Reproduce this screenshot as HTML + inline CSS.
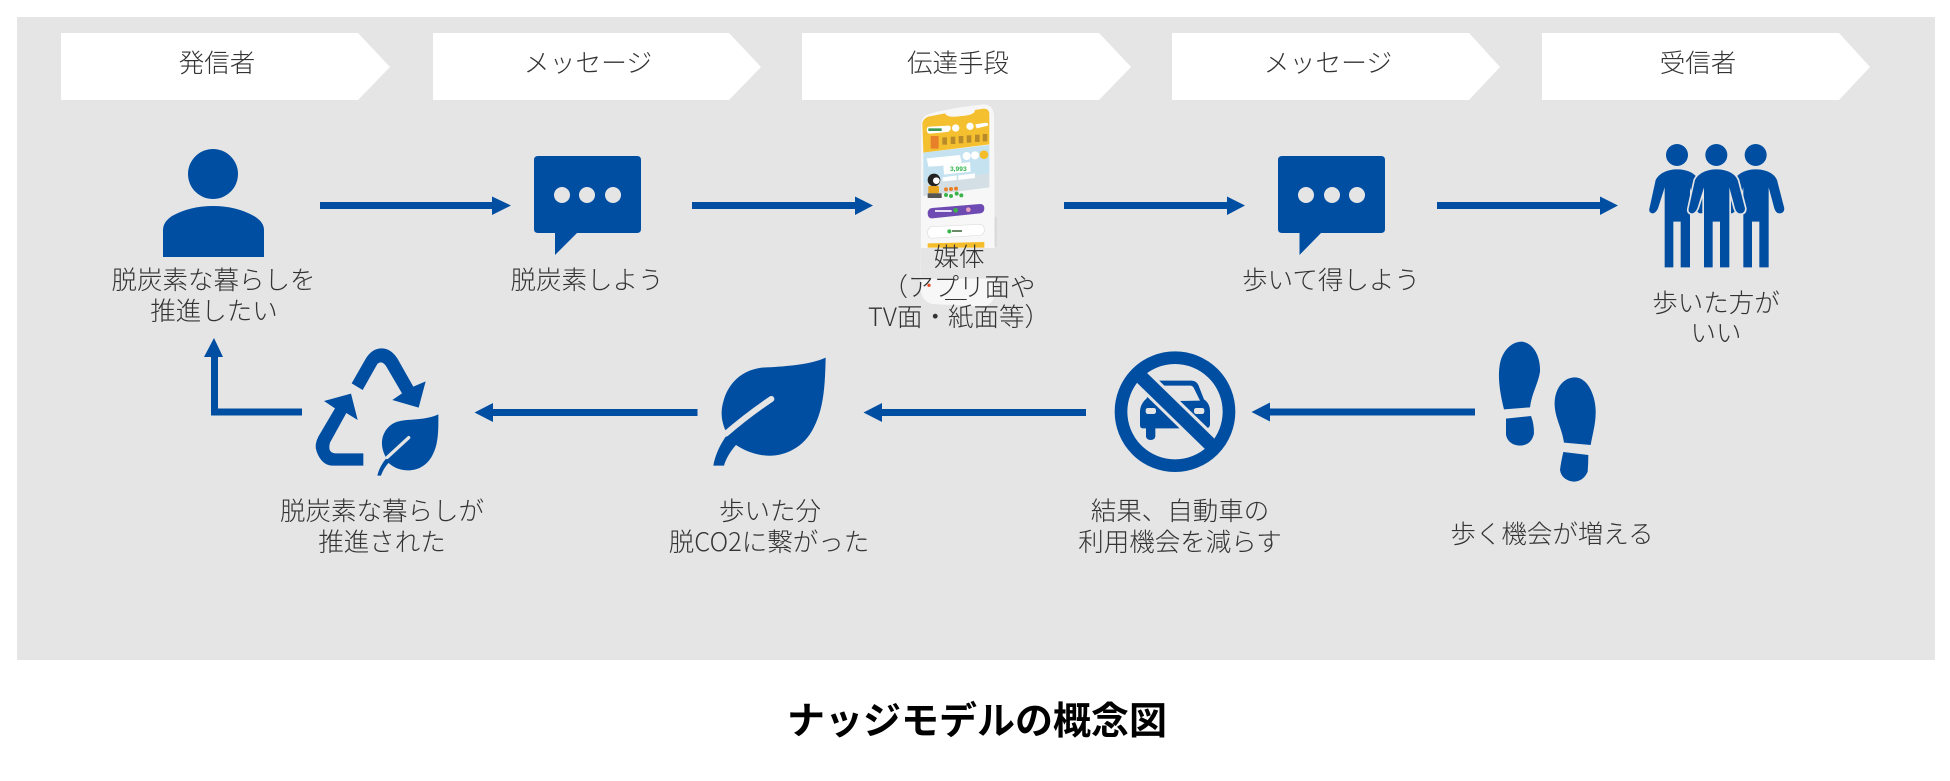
<!DOCTYPE html>
<html lang="ja"><head><meta charset="utf-8"><title>ナッジモデルの概念図</title>
<style>html,body{margin:0;padding:0;background:#fff;width:1950px;height:781px;overflow:hidden}svg{display:block}
text{font-family:"Liberation Sans","Noto Sans CJK JP",sans-serif;fill:#333;font-size:25.5px;font-weight:300;text-anchor:middle}
text.n{font-family:"Noto Sans CJK JP",sans-serif}</style></head>
<body>
<svg width="1950" height="781" viewBox="0 0 1950 781" xmlns="http://www.w3.org/2000/svg">
<rect width="1950" height="781" fill="#fff"/>
<rect x="17" y="17" width="1918" height="643" fill="#e5e5e5"/>
<!-- chevrons -->
<g fill="#fff">
<polygon points="61,33 358,33 390,67 358,100 61,100"/>
<polygon points="433,33 729,33 761,67 729,100 433,100"/>
<polygon points="802,33 1099,33 1131,67 1099,100 802,100"/>
<polygon points="1172,33 1469,33 1500,67 1469,100 1172,100"/>
<polygon points="1542,33 1839,33 1870,67 1839,100 1542,100"/>
</g>
<text x="217" y="72">発信者</text>
<text x="588" y="72" style="font-size:25.800px">メッセージ</text>
<text x="958" y="72">伝達手段</text>
<text x="1328" y="72" style="font-size:25.800px">メッセージ</text>
<text x="1698" y="72">受信者</text>

<g fill="#004ea2">
<!-- arrows -->
<polygon points="320,202 492,202 492,196.500 511,205.500 492,215 492,209 320,209"/>
<polygon points="692,202 855,202 855,196.500 873,205.500 855,215 855,209 692,209"/>
<polygon points="1064,202 1227,202 1227,196.500 1245,205.500 1227,215 1227,209 1064,209"/>
<polygon points="1437,202 1600,202 1600,196.500 1618,205.500 1600,215 1600,209 1437,209"/>
<polygon points="1475,408.500 1270,408.500 1270,402.500 1251.500,412 1270,421.500 1270,415.500 1475,415.500"/>
<polygon points="1086,409 882,409 882,403 863.500,412.500 882,422 882,416 1086,416"/>
<polygon points="697.500,409 493,409 493,403 474.500,412.500 493,422 493,416 697.500,416"/>
<polygon points="302,408.500 218,408.500 218,357 223,357 214,338 204,357 211,357 211,415.500 302,415.500"/>

<!-- person -->
<ellipse cx="213" cy="174" rx="25" ry="25"/>
<path d="M163,257 L163,230 Q163,222 172,216 Q190,206 213,206 Q236,206 254,216 Q264,222 264,230 L264,257 Z"/>
<!-- bubbles -->
<path d="M534,160 Q534,156 538,156 L637,156 Q641,156 641,160 L641,229 Q641,233 637,233 L577,233 L555,255 L555,233 L538,233 Q534,233 534,229 Z"/>
<path d="M1278,160 Q1278,156 1282,156 L1381,156 Q1385,156 1385,160 L1385,229 Q1385,233 1381,233 L1321,233 L1299.500,255 L1299.500,233 L1282,233 Q1278,233 1278,229 Z"/>
</g>
<g fill="#e5e5e5">
<circle cx="562" cy="195" r="8"/><circle cx="587" cy="195" r="8"/><circle cx="613" cy="195" r="8"/>
<circle cx="1306" cy="195" r="8"/><circle cx="1332" cy="195" r="8"/><circle cx="1357" cy="195" r="8"/>
</g>

<!-- people -->
<g transform="translate(1640,130) scale(.33333)" fill="#004ea2">
<circle cx="111" cy="75" r="33"/><circle cx="229" cy="75" r="33"/><circle cx="347" cy="75" r="33"/>
<path transform="translate(-118,0)" d="M229,118 C260,118 285,130 293,150 L315,235 Q315,250 300,250 Q290,250 285,235 L268,172 L268,412 L240,412 L240,275 L218,275 L218,412 L192,412 L192,172 L172,235 Q165,250 155,250 Q142,248 147,232 L165,150 C175,130 200,118 229,118Z"/>
<path transform="translate(118,0)" d="M229,118 C260,118 285,130 293,150 L315,235 Q315,250 300,250 Q290,250 285,235 L268,172 L268,412 L240,412 L240,275 L218,275 L218,412 L192,412 L192,172 L172,235 Q165,250 155,250 Q142,248 147,232 L165,150 C175,130 200,118 229,118Z"/>
<path stroke="#e5e5e5" stroke-width="10" paint-order="stroke" d="M229,118 C260,118 285,130 293,150 L315,235 Q315,250 300,250 Q290,250 285,235 L268,172 L268,412 L240,412 L240,275 L218,275 L218,412 L192,412 L192,172 L172,235 Q165,250 155,250 Q142,248 147,232 L165,150 C175,130 200,118 229,118Z"/>
</g>

<!-- phone -->
<g transform="translate(860,90) scale(.33333)">
<path fill="#f7f7f7" d="M200,75 Q240,58 370,43 Q398,43 402,75 L405,605 Q402,645 370,650 L215,642 Q185,632 182,600 L184,100 Q186,82 200,75Z"/>
<path fill="#f5c02f" d="M187,100 Q190,85 205,80 L255,70 Q262,85 305,78 Q345,75 345,60 L370,56 Q388,56 388,72 L388,163 L190,188 Z"/>
<path fill="#c4e2ef" d="M190,188 L388,165 L388,250 L190,280Z"/>
<path fill="#d3dfe4" d="M190,280 L388,250 L388,292 L190,318Z"/>
<path fill="#fff" d="M200,118 Q200,110 210,110 L265,107 Q272,107 272,114 Q272,124 262,126 L210,131 Q200,131 200,118Z"/>
<rect x="205" y="115" width="40" height="8" fill="#3a9a50"/>
<circle cx="287" cy="114" r="11" fill="#fff"/><circle cx="330" cy="109" r="11" fill="#fff"/>
<path fill="#fff" d="M346,103 L378,98 Q386,100 384,107 L350,115Z"/>
<rect x="212" y="138" width="24" height="38" fill="#e8802a"/>
<g fill="#b98a2a"><rect x="247" y="142" width="14" height="22"/><rect x="272" y="140" width="14" height="22"/><rect x="296" y="138" width="14" height="22"/><rect x="320" y="136" width="14" height="22"/><rect x="345" y="134" width="14" height="22"/><rect x="368" y="132" width="14" height="22"/></g>
<path fill="#fff" d="M200,205 L300,195 L305,218 L240,228 L205,230Z"/>
<path fill="#fff" d="M250,226 L330,216 L332,245 L252,254Z"/>
<text x="295" y="243" style="font-size:20px;fill:#2db44a;font-weight:700">3,993</text>
<circle cx="320" cy="198" r="12" fill="#fff"/><circle cx="345" cy="196" r="12" fill="#fff"/><circle cx="372" cy="194" r="13" fill="#f6bd2b"/>
<path fill="#fff" d="M248,262 L290,256 L290,270 L248,274Z M295,256 L345,250 L345,264 L295,270Z"/>
<circle cx="222" cy="270" r="19" fill="#222"/><circle cx="229" cy="272" r="10" fill="#fff"/>
<rect x="205" y="288" width="32" height="22" rx="4" fill="#e7a520"/>
<rect x="203" y="310" width="42" height="14" fill="#555"/>
<g fill="#e8802a"><circle cx="258" cy="298" r="6"/><circle cx="273" cy="297" r="6"/><circle cx="288" cy="296" r="6"/></g>
<g fill="#3cb34a"><circle cx="258" cy="315" r="6"/><circle cx="273" cy="318" r="6"/><circle cx="290" cy="311" r="6"/><circle cx="304" cy="316" r="6"/></g>
<path fill="#6e4bb2" d="M216,354 L360,342 Q373,342 373,355 Q373,368 360,370 L216,385 Q203,385 203,370 Q203,356 216,354Z"/>
<g fill="#e6dff5"><rect x="225" y="360" width="50" height="6"/><circle cx="287" cy="361" r="7" fill="#3cb34a"/><circle cx="325" cy="359" r="7" fill="#e8a0c0"/></g>
<path fill="#fff" stroke="#ddd" stroke-width="2" d="M215,410 L360,403 Q373,404 373,420 Q373,434 360,436 L215,445 Q203,444 203,428 Q203,412 215,410Z"/>
<circle cx="268" cy="424" r="6" fill="#3cb34a"/><rect x="276" y="420" width="30" height="6" fill="#6a8a6a"/>
<path fill="#f6bd2b" d="M203,460 L373,456 L373,473 L203,473Z"/>
<rect x="183" y="474" width="222" height="92" fill="#e5e5e5"/>
<path fill="#d8d8d8" d="M404,380 h6 v90 h-6z"/>
<circle cx="207" cy="586" r="5" fill="#e8502a"/>
<rect x="255" y="627" width="65" height="3" fill="#333"/>
</g>

<!-- lower row icons -->
<g transform="translate(300,340) scale(.33333)" fill="#004ea2">
<path d="M155,130 L196,58 Q215,25 245,25 Q272,25 292,55 L340,140 L377,124 L356,203 L277,180 L306,160 L258,78 Q245,60 232,72 L188,150 Z"/>
<path d="M72,183 L153,161 L173,240 L139,219 L90,308 Q82,338 105,340 L190,340 L190,377 L95,377 Q65,375 50,335 Q42,315 55,290 L105,205 Z"/>
<path d="M415,223 C416,290 412,320 395,350 C375,385 340,395 310,390 C290,387 275,378 265,368 L258,352 C245,330 240,300 255,275 C270,250 290,243 320,240 C355,238 390,235 415,223Z"/>
<path d="M326,293 L262,352" stroke="#e5e5e5" stroke-width="10" stroke-linecap="round" fill="none"/>
<path d="M232,407 Q238,380 258,356 L268,366 Q250,385 243,407 Z"/>
</g>
<g transform="translate(700,345) scale(.33333)" fill="#004ea2">
<path d="M377,38 C375,120 372,190 340,250 C310,310 250,335 200,332 C165,330 130,315 108,300 C92,318 78,340 72,362 L40,362 C45,330 62,295 82,268 C65,235 60,205 70,170 C85,110 130,75 185,68 C250,65 330,60 377,38Z"/>
<path d="M214,162 Q140,212 78,266" stroke="#e5e5e5" stroke-width="18" stroke-linecap="round" fill="none"/>
</g>
<g transform="translate(1100,340) scale(.33333)">
<path fill="#004ea2" d="M180,122 L275,122 Q288,122 295,135 L312,178 Q330,190 330,215 L330,255 Q328,265 318,265 L166,265 L166,290 Q164,300 152,300 Q140,300 138,290 L138,265 L128,265 Q120,265 120,255 L120,212 Q122,190 140,175 L160,130 Q165,122 180,122Z"/>
<path fill="#e5e5e5" d="M180,137 L270,137 Q278,137 282,145 L300,182 L232,183Z"/>
<rect x="137" y="204" width="31" height="18" rx="7" fill="#e5e5e5"/>
<rect x="282" y="204" width="31" height="18" rx="7" fill="#e5e5e5"/>
<line x1="110" y1="98" x2="340" y2="322" stroke="#e5e5e5" stroke-width="60"/>
<line x1="110" y1="98" x2="340" y2="322" stroke="#004ea2" stroke-width="42"/>
<circle cx="225" cy="215" r="162" fill="none" stroke="#004ea2" stroke-width="38"/>
</g>
<g transform="translate(1480,330) scale(.33333)" fill="#004ea2">
<path d="M72,238 C60,190 52,140 60,100 C70,55 100,35 125,35 C160,38 182,80 180,125 C175,160 155,190 150,232 Z"/>
<path d="M78,266 L153,258 Q162,280 162,310 Q155,345 120,347 Q85,345 78,315 Z"/>
<path d="M252,338 C245,290 222,260 224,215 C226,175 250,142 285,142 C320,142 345,190 347,240 C348,280 338,310 332,345 Z"/>
<path d="M250,366 L325,375 Q325,400 323,425 Q310,455 280,455 Q245,450 240,420 Q243,395 250,366 Z"/>
</g>

<!-- labels -->
<text x="213.500" y="289">脱炭素な暮らしを</text>
<text x="214" y="320">推進したい</text>
<text x="587" y="289">脱炭素しよう</text>
<text x="959" y="266">媒体</text>
<text x="959" y="296">（アプリ面や</text>
<text class="n" x="959" y="326">TV面・紙面等）</text>
<text x="1331" y="289">歩いて得しよう</text>
<text x="1716" y="312">歩いた方が</text>
<text x="1716" y="342">いい</text>
<text x="382" y="520">脱炭素な暮らしが</text>
<text x="382" y="551">推進された</text>
<text x="770" y="520">歩いた分</text>
<text class="n" x="769" y="551">脱CO2に繋がった</text>
<text x="1180" y="520">結果、自動車の</text>
<text x="1180" y="551">利用機会を減らす</text>
<text x="1552" y="543">歩く機会が増える</text>
<text x="977" y="734" style="font-size:38px;font-weight:700;fill:#000">ナッジモデルの概念図</text>
</svg>
</body></html>
